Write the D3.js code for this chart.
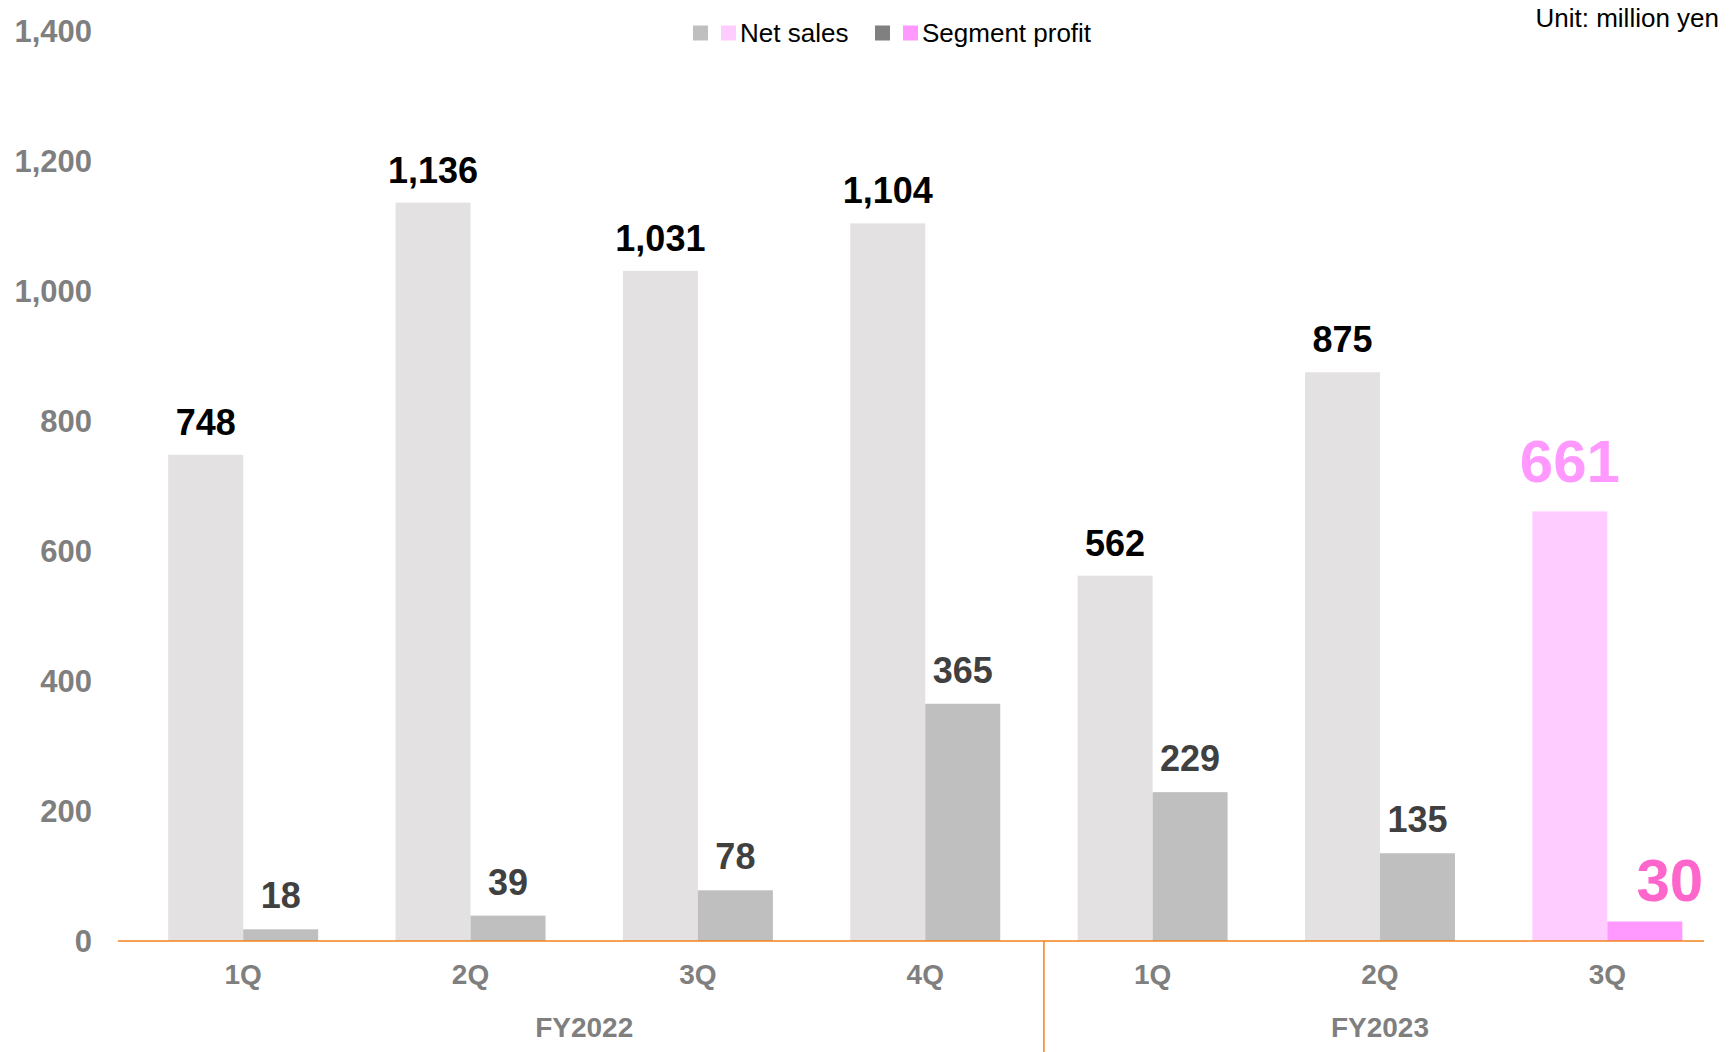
<!DOCTYPE html>
<html>
<head>
<meta charset="utf-8">
<script src="https://cdn.jsdelivr.net/npm/d3@7"></script>
<style>
  body { margin: 0; background: #fff; }
  text { font-family: "Liberation Sans", Arial, sans-serif; }
</style>
</head>
<body>
<script>
// quarters and fiscal years
var quarters = ["1Q", "2Q", "3Q", "4Q", "1Q", "2Q", "3Q"];
var fiscalYears = ["FY2022", "FY2022", "FY2022", "FY2022", "FY2023", "FY2023", "FY2023"];
var netSales = [748, 1136, 1031, 1104, 562, 875, 661];
var segmentProfit = [18, 39, 78, 365, 229, 135, 30];
var yTicks = [0, 200, 400, 600, 800, 1000, 1200, 1400];

var W = 1729, H = 1052;
var GREY_TXT = "#7f7f7f";
var ORANGE = "#f5821f";

var svg = d3.select("body").append("svg")
  .attr("width", W).attr("height", H);

var y = d3.scaleLinear().domain([0, 1400]).range([941, 31]);
var x = d3.scaleBand().domain(d3.range(quarters.length)).range([129.5, 1721]);
var sub = d3.scaleBand().domain(["net", "profit"]).range([0, x.bandwidth()])
  .paddingInner(0).paddingOuter(0.516);

var last = quarters.length - 1;

// y axis labels (no line)
svg.append("g").selectAll("text")
  .data(yTicks).enter().append("text")
  .attr("x", 92)
  .attr("y", function(d) { return y(d); })
  .attr("dy", "0.36em")
  .attr("text-anchor", "end")
  .style("font-size", "31px").style("font-weight", "bold")
  .style("fill", GREY_TXT)
  .text(d3.format(","));

// bars
var groups = svg.append("g").selectAll("g")
  .data(quarters).enter().append("g")
  .attr("transform", function(d, i) { return "translate(" + x(i) + ",0)"; });

groups.append("rect")
  .attr("x", sub("net"))
  .attr("width", sub.bandwidth())
  .attr("y", function(d, i) { return y(netSales[i]); })
  .attr("height", function(d, i) { return y(0) - y(netSales[i]); })
  .style("fill", function(d, i) { return i == last ? "#ffccff" : "#e3e1e2"; });

groups.append("rect")
  .attr("x", sub("profit"))
  .attr("width", sub.bandwidth())
  .attr("y", function(d, i) { return y(segmentProfit[i]); })
  .attr("height", function(d, i) { return y(0) - y(segmentProfit[i]); })
  .style("fill", function(d, i) { return i == last ? "#ff99ff" : "#bfbfbf"; });

// value labels
groups.append("text")
  .attr("x", sub("net") + sub.bandwidth() / 2)
  .attr("y", function(d, i) { return y(netSales[i]) - (i == last ? 29 : 20); })
  .attr("text-anchor", "middle")
  .style("font-weight", "bold")
  .style("font-size", function(d, i) { return i == last ? "60px" : "36px"; })
  .style("fill", function(d, i) { return i == last ? "#ff99ff" : "#000"; })
  .text(function(d, i) { return d3.format(",")(netSales[i]); });

groups.append("text")
  .attr("x", function(d, i) { return sub("profit") + sub.bandwidth() / 2 + (i == last ? 25 : 0); })
  .attr("y", function(d, i) { return y(segmentProfit[i]) - 21; })
  .attr("text-anchor", "middle")
  .style("font-weight", "bold")
  .style("font-size", function(d, i) { return i == last ? "60px" : "36px"; })
  .style("fill", function(d, i) { return i == last ? "#ff66cc" : "#404040"; })
  .text(function(d, i) { return d3.format(",")(segmentProfit[i]); });

// baseline + year separator
svg.append("line")
  .attr("x1", 118).attr("x2", 1704)
  .attr("y1", y(0)).attr("y2", y(0))
  .style("stroke", ORANGE).style("stroke-width", 1.5);

svg.append("line")
  .attr("x1", x(4) + 5).attr("x2", x(4) + 5)
  .attr("y1", y(0)).attr("y2", H)
  .style("stroke", ORANGE).style("stroke-width", 1.5);

// quarter labels
groups.append("text")
  .attr("x", x.bandwidth() / 2)
  .attr("y", 984)
  .attr("text-anchor", "middle")
  .style("font-size", "28px").style("font-weight", "bold")
  .style("fill", GREY_TXT)
  .text(function(d) { return d; });

// fiscal year labels, centered under their quarters
var years = Array.from(new Set(fiscalYears));
svg.append("g").selectAll("text")
  .data(years).enter().append("text")
  .attr("x", function(fy) {
    var idx = d3.range(fiscalYears.length).filter(function(i) { return fiscalYears[i] == fy; });
    return (x(idx[0]) + x(idx[idx.length - 1]) + x.bandwidth()) / 2;
  })
  .attr("y", 1037)
  .attr("text-anchor", "middle")
  .style("font-size", "28px").style("font-weight", "bold")
  .style("fill", GREY_TXT)
  .text(function(d) { return d; });

// legend
var legend = [
  { label: "Net sales", colors: ["#bfbfbf", "#ffccff"], x: 693 },
  { label: "Segment profit", colors: ["#808080", "#ff99ff"], x: 875 }
];
var lg = svg.append("g").selectAll("g")
  .data(legend).enter().append("g")
  .attr("transform", function(d) { return "translate(" + d.x + ",33)"; });
lg.append("rect").attr("x", 0).attr("y", -7.5).attr("width", 15).attr("height", 15)
  .style("fill", function(d) { return d.colors[0]; });
lg.append("rect").attr("x", 28).attr("y", -7.5).attr("width", 15).attr("height", 15)
  .style("fill", function(d) { return d.colors[1]; });
lg.append("text").attr("x", 47).attr("dy", "0.36em")
  .style("font-size", "26px").style("fill", "#000")
  .text(function(d) { return d.label; });

svg.append("text")
  .attr("x", 1719).attr("y", 27)
  .attr("text-anchor", "end")
  .style("font-size", "26px").style("fill", "#000")
  .text("Unit: million yen");
</script>
</body>
</html>
